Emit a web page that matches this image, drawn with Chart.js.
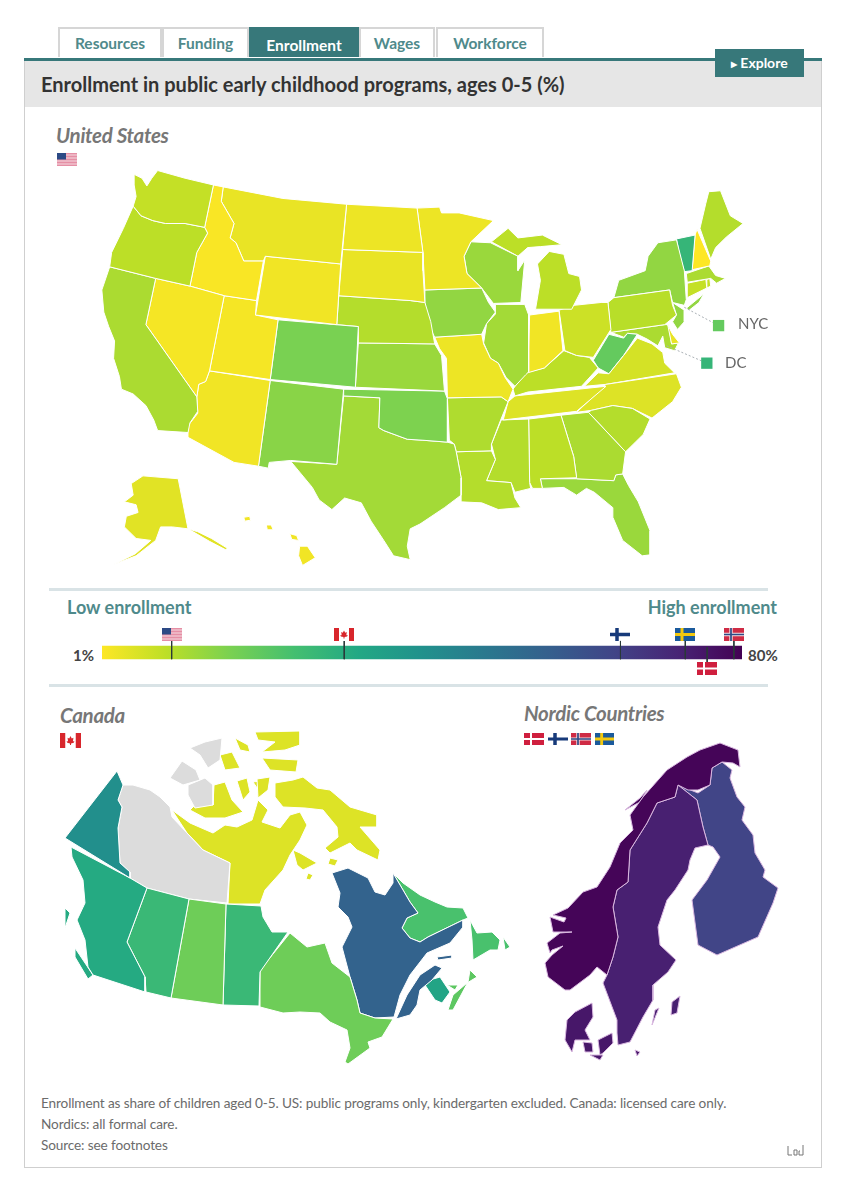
<!DOCTYPE html>
<html>
<head>
<meta charset="utf-8">
<title>Enrollment in public early childhood programs</title>
<script src="https://cdn.jsdelivr.net/npm/chart.js@4/dist/chart.umd.min.js"></script>
<style>
  html, body { margin: 0; padding: 0; background: #fff; }
  body { width: 865px; height: 1200px; position: relative; overflow: hidden; font-family: Lato, sans-serif; }
  .abs { position: absolute; }
  canvas { position: absolute; }
  .tab { position: absolute; top: 27px; height: 30px; line-height: 29px; text-align: center; box-sizing: border-box;
    border: 2px solid #d6d6d6; border-bottom: none; font-size: 15.5px; font-weight: 700; color: #4f8a8b; background: #fff; }
  .tab.active { background: #37787a; border-color: #37787a; color: #fff; line-height: 33px; }
  #card { position: absolute; left: 24px; top: 58px; width: 798px; height: 1110px; box-sizing: border-box;
    border: 1px solid #cfcfcf; border-top: none; }
  #topline { position: absolute; left: 24px; top: 58px; width: 798px; height: 3px; background: #37787a; }
  #header { position: absolute; left: 25px; top: 61px; width: 796px; height: 46px; background: #e6e6e6; }
  #title { position: absolute; left: 41px; top: 72px; font-size: 20px; font-weight: 700; color: #333; white-space: nowrap; }
  #explore { position: absolute; left: 715px; top: 49px; width: 89px; height: 28px; line-height: 28px; background: #37787a;
    color: #fff; font-size: 14px; font-weight: 700; text-align: center; }
  #explore span { font-size: 8px; vertical-align: 1px; margin-right: 3px; }
  .region { position: absolute; font-size: 20.5px; font-weight: 700; font-style: italic; color: #777; white-space: nowrap; letter-spacing: -0.3px; }
  .sep { position: absolute; left: 49px; width: 719px; height: 3px; background: #d9e3e6; }
  .scale-end { position: absolute; font-size: 18px; font-weight: 700; color: #4f8a8b; white-space: nowrap; }
  .scale-val { position: absolute; font-size: 15px; font-weight: 700; color: #444; white-space: nowrap; }
  .tag { position: absolute; font-size: 15px; color: #666; white-space: nowrap; }
  .note { position: absolute; left: 41px; font-size: 13.6px; color: #6b6b6b; white-space: nowrap; letter-spacing: -0.12px; }
  .flag { position: absolute; display: block; }
</style>
</head>
<body>

<div class="tab" style="left:58px;width:104px">Resources</div>
<div class="tab" style="left:162px;width:87px">Funding</div>
<div class="tab active" style="left:249px;width:110px">Enrollment</div>
<div class="tab" style="left:359px;width:76px">Wages</div>
<div class="tab" style="left:436px;width:108px">Workforce</div>
<div id="card"></div>
<div id="header"></div>
<div id="topline"></div>
<div id="title">Enrollment in public early childhood programs, ages 0-5 (%)</div>
<div id="explore"><span>&#9654;</span>Explore</div>

<div class="region" style="left:56px;top:123px">United States</div>
<div class="region" style="left:60px;top:703px">Canada</div>
<div class="region" style="left:524px;top:701px">Nordic Countries</div>

<canvas id="usMap" style="left:40px;top:150px" width="760" height="435"></canvas>
<canvas id="caMap" style="left:50px;top:725px" width="470" height="350"></canvas>
<canvas id="noMap" style="left:520px;top:735px" width="270" height="335"></canvas>

<div class="tag" style="left:738px;top:314px">NYC</div>
<div class="tag" style="left:725px;top:353px">DC</div>

<div class="sep" style="top:588px"></div>
<div class="sep" style="top:684px"></div>
<div class="scale-end" style="left:67px;top:596px">Low enrollment</div>
<div class="scale-end" style="right:88px;top:596px">High enrollment</div>
<div class="scale-val" style="left:73px;top:646px">1%</div>
<div class="scale-val" style="left:748px;top:646px">80%</div>
<canvas id="scaleBar" style="left:102px;top:640px" width="640" height="24"></canvas>

<div class="note" style="top:1095px">Enrollment as share of children aged 0-5. US: public programs only, kindergarten excluded. Canada: licensed care only.</div>
<div class="note" style="top:1116px">Nordics: all formal care.</div>
<div class="note" style="top:1137px">Source: see footnotes</div>
<svg class="abs" style="left:787px;top:1144px" width="18" height="12" viewBox="0 0 18 12">
  <path d="M1 2v9h4M7 6h3v5H7zM13 7h-1v4h4V1" fill="none" stroke="#777" stroke-width="1"/>
</svg>

<script>
// enrollment scale shown on the bar
const scaleMin = 1;
const scaleMax = 80;

// national averages, positions of the flags on the bar
const countryCodes = ['us', 'ca', 'fi', 'se', 'dk', 'no'];
const countryValues = [9.6, 30.9, 65, 73, 75.7, 79];

// US states, values
const usStates = ['WA','OR','CA','NV','ID','MT','WY','UT','AZ','CO','NM','ND','SD','NE','KS','OK','TX','MN','IA','MO','AR','LA',
  'WI','IL','MI','IN','OH','KY','TN','MS','AL','GA','FL','SC','NC','VA','WV','PA','NY','VT','NH','ME','MA','CT','RI','NJ','DE','MD','AK','HI'];
const usValues = [8,9,11,2,1.5,3.5,2.5,2,2.5,17,15,3,3.5,10,13,16.5,12,3,14,3,10.5,10,
  13,12,9,2.5,7,9,5,10,9,11,13,10,5,6,20,9.5,14,28,1,10,11,8,8,14,3.5,11,4.5,2.5];

// state outlines in map units, same order as usStates
const usOutlines = [
  [[128,167,136,171,141,179,146,171,152,163,180,171,209,178,200,222,180,218,160,218,147,215,135,210,127,200,130,190,128,178]],
  [[127,200,135,210,147,215,160,218,180,218,200,222,203,228,192,248,185,283,150,275,103,263,105,248,117,223]],
  [[103,263,150,275,140,323,192,398,193,413,185,425,183,435,152,433,148,422,140,407,127,395,115,390,113,377,107,358,108,340,102,325,97,310,95,287]],
  [[150,275,185,283,220,293,205,371,201,382,194,385,192,398,140,323]],
  [[209,178,219,180,217,195,230,218,226,233,232,238,240,257,260,257,253,298,220,293,185,283,192,248,203,228,200,222]],
  [[219,180,280,192,345,198,339,260,262,252,260,257,240,257,232,238,226,233,230,218,217,195]],
  [[262,252,339,260,335,323,252,313]],
  [[220,293,253,298,252,313,275,318,267,380,205,371]],
  [[205,371,267,381,255,470,230,466,183,440,183,428,193,415,192,398,194,385,201,382]],
  [[275,318,357,325,354,388,267,380]],
  [[267,381,342,390,335,468,288,464,266,466,265,472,255,470]],
  [[345,198,417,202,423,248,341,245]],
  [[341,245,423,248,423,267,425,300,410,298,337,293]],
  [[337,293,410,298,425,300,431,320,435,343,357,342,357,325,335,323]],
  [[357,342,435,343,442,355,445,392,354,388]],
  [[342,390,445,392,448,400,448,445,423,443,407,442,383,433,378,430,379,399,342,397]],
  [[342,397,379,399,378,430,383,433,407,442,423,443,448,445,455,447,457,455,462,482,462,500,445,513,420,530,410,535,407,553,410,567,393,563,383,547,370,527,360,508,343,503,330,515,317,505,310,492,288,465,335,468]],
  [[417,202,440,201,442,207,460,207,495,215,472,237,465,252,468,270,483,285,425,287,423,248]],
  [[425,287,483,285,490,300,497,310,488,322,483,333,435,336,427,320,425,300]],
  [[435,336,483,333,485,343,492,358,500,363,507,378,515,390,510,403,503,398,448,399,447,358,440,348]],
  [[448,399,503,398,510,403,502,423,493,447,493,454,457,455,455,447,450,443]],
  [[457,455,493,454,497,463,488,485,513,487,517,503,523,513,500,515,483,508,462,507,462,482]],
  [[472,237,492,238,520,252,520,267,527,256,523,300,495,301,483,285,468,270,465,252]],
  [[497,302,527,302,531,313,531,372,528,375,517,387,508,378,500,363,492,358,485,342,488,322,497,312]],
  [[493,237,510,223,520,233,545,230,565,240,543,242,530,243,520,252],[538,307,543,277,540,260,552,247,567,250,572,270,583,273,585,287,575,307]],
  [[532,313,562,309,566,350,547,368,530,373]],
  [[562,308,577,303,605,300,612,300,615,328,597,357,580,355,568,350]],
  [[515,390,527,373,547,368,567,350,580,355,593,357,602,368,585,387,530,393,517,397]],
  [[517,397,610,387,580,413,505,422,510,403]],
  [[503,422,531,421,532,487,533,493,517,497,513,487,488,485,497,463,493,447]],
  [[531,421,564,417,577,460,580,482,543,483,545,493,535,493,532,487]],
  [[564,417,592,414,630,455,627,478,620,479,618,485,580,483,577,460]],
  [[543,483,580,483,618,485,620,479,627,478,633,490,643,507,655,537,655,562,647,563,627,547,617,523,617,513,598,497,590,493,580,500,567,492,545,493]],
  [[592,414,595,412,617,407,637,410,655,421,648,437,630,455]],
  [[580,414,610,385,682,374,687,388,678,403,657,420,637,410,617,407,595,412]],
  [[588,387,602,373,613,374,628,355,642,337,657,343,668,352,670,363,680,373,610,385]],
  [[597,360,613,333,628,337,632,332,642,333,628,355,613,374,602,368]],
  [[618,295,675,287,678,303,682,313,670,323,615,331,612,300]],
  [[618,295,623,277,650,267,653,252,663,238,682,235,690,267,692,297,690,303,678,300,675,287],[692,306,710,291,705,300,695,308]],
  [[682,234,701,230,698,267,690,268,685,250]],
  [[701,230,703,224,717,257,716,262,698,266]],
  [[706,223,712,197,715,185,727,184,737,210,750,218,733,232,722,243,717,255]],
  [[692,270,715,262,722,272,732,275,723,280,717,275,693,279]],
  [[693,280,712,276,713,285,693,295]],
  [[713,276,716,275,717,283,713,285]],
  [[678,300,690,308,690,320,683,328,678,320,682,313]],
  [[673,323,678,333,685,342,677,343]],
  [[615,331,670,323,674,323,677,343,684,342,680,350,670,347,668,335,663,345,652,338,642,333,632,332,628,336]],
  [[125,488,137,480,173,483,183,535,193,538,207,545,223,555,222,557,205,548,183,535,167,533,155,533,150,547,130,563,107,572,129,561,145,547,130,545,118,533,120,522,132,518,130,510,118,507,127,500]],
  [[297,553,305,553,313,565,300,573,296,563],[287,540,294,542,296,547,289,546],[263,531,268,531,270,536,264,536],[240,523,246,522,247,526,241,527]]
];

// city call-outs beside the US map
const usCities = ['NYC', 'DC'];
const usCityValues = [20, 28];
const usCityMarks = [[725, 324], [713, 363]];
const usCityAnchors = [[690, 305], [672, 345]];

// Canadian provinces, null is no data
const caProvinces = ['YT','BC','AB','SK','MB','NT','NU','ON','QC','NL','NB','NS','PE'];
const caValues = [41, 32, 27, 18.5, 27, null, 5, 18.5, 55, 24, 34, 21, 21];
const caOutlines = [
  [[117,771,123,785,118,800,122,807,118,828,120,863,130,872,130,878,65,838]],
  [[71,847,130,878,147,888,127,942,145,977,145,992,93,975,88,967,85,940,77,920,85,903,83,880,72,857],[75,948,93,975,88,979,75,957],[65,908,70,913,65,928]],
  [[147,888,189,899,171,998,146,992,145,977,127,942]],
  [[189,899,226,904,223,1005,171,998]],
  [[226,904,261,906,263,917,272,932,288,932,260,972,259,1006,223,1005]],
  [[123,785,133,785,150,790,160,797,170,807,172,817,187,833,203,850,230,863,227,903,189,899,147,888,130,878,130,872,120,863,118,828,122,807,118,800],
   [170,778,182,761,196,770,200,780,183,785],[188,785,205,778,213,785,213,805,195,808,188,795],[190,748,205,742,222,738,220,760,208,768,200,755]],
  [[172,810,190,823,213,833,225,825,237,827,252,820,258,800,268,810,262,822,280,828,290,815,300,812,307,825,300,840,290,855,283,870,265,890,260,904,228,904,230,863,203,850,187,833],
   [190,810,200,800,213,805,214,785,225,782,232,800,243,812,225,818,205,818],[237,781,247,778,250,792,243,800],[257,779,270,777,268,790,258,798],
   [220,755,232,752,240,768,225,770],[235,738,248,745,250,752,240,750],[255,732,300,731,300,745,285,750,262,752,275,742,258,740],[262,758,298,760,296,772,270,770],
   [275,783,293,780,303,777,317,788,330,790,350,807,377,815,377,827,360,827,380,850,378,860,357,850,350,843,330,853,325,848,338,837,337,827,323,810,305,808,283,807,275,797],
   [293,850,300,853,317,863,303,870,297,865],[308,873,313,875,310,880,306,879],[253,782,268,780,262,795],[330,858,338,860,335,866,328,864]],
  [[290,933,307,947,325,943,332,963,350,977,357,1000,360,1013,375,1018,393,1019,382,1037,368,1042,370,1048,348,1064,345,1062,350,1048,347,1030,330,1022,320,1013,300,1012,283,1013,260,1007,260,970]],
  [[332,873,348,868,368,878,375,892,385,895,393,883,393,873,403,890,410,902,418,913,407,918,402,928,410,938,420,942,428,937,463,920,463,927,450,943,427,953,410,975,400,995,394,1017,375,1018,360,1013,357,1000,350,977,342,947,352,927,348,917,338,907,340,893],
   [396,1019,407,995,420,975,435,965,442,968,432,980,420,990,417,1005,410,1015],[437,957,452,955,452,958,438,960]],
  [[393,873,403,883,420,895,435,902,447,907,463,908,468,918,463,920,428,937,420,942,410,938,402,928,407,918,418,913,410,902,403,890],
   [470,920,477,933,492,932,500,940,498,950,490,950,473,960,472,940],[503,937,510,947,505,950]],
  [[423,982,440,977,450,992,442,1003,435,1000]],
  [[448,1010,453,995,467,983,477,977,470,970,468,982,453,1010]],
  [[447,985,458,985,455,990]]
];

// Nordic countries
const nordicCountries = ['Norway', 'Sweden', 'Finland', 'Denmark'];
const nordicValues = [79, 73, 64, 75];
const nordicOutlines = [
  [[565,990,548,977,545,963,552,955,563,946,552,950,550,953,547,943,560,933,572,932,553,932,550,917,564,922,566,918,553,915,568,908,583,892,597,887,610,867,620,843,633,830,630,815,643,797,667,770,687,757,700,750,720,743,738,750,740,767,733,763,722,762,712,768,710,785,698,790,688,790,678,785,675,797,657,803,647,823,630,850,628,882,617,890,613,907,618,937,613,957,607,975,597,967,590,975,570,990],
   [625,810,640,798,647,790,640,802]],
  [[678,785,697,800,703,827,708,845,695,848,690,860,688,870,675,890,667,900,658,927,660,945,676,960,668,972,653,985,653,1000,643,1017,630,1042,618,1045,617,1033,617,1020,603,983,607,975,613,957,618,937,613,907,617,890,628,882,630,850,647,823,657,803,675,797],
   [672,1002,680,996,677,1013,671,1015],[655,1010,659,1008,652,1025]],
  [[678,785,698,793,710,785,712,768,722,762,732,770,730,778,737,797,745,807,742,820,753,835,755,853,765,870,763,877,778,888,773,903,758,937,717,955,698,945,692,900,707,880,720,857,713,847,708,845,703,827,697,800]],
  [[592,1003,593,1017,585,1030,590,1040,575,1040,572,1052,565,1040,567,1020,575,1012],[598,1040,612,1033,613,1043,603,1053,600,1055],[583,1042,592,1043,593,1052,585,1052],[590,1055,603,1055,600,1060],[635,1050,640,1052,637,1056]]
];

const viridis = ['#fde725','#bddf26','#7ad151','#44bf70','#22a884','#21918c','#2a788e','#355f8d','#414487','#482475','#440154'];

function hexToRgb(hex) {
  return [1, 3, 5].map(i => parseInt(hex.slice(i, i + 2), 16));
}

function valueColor(value) {
  if (value === null) return '#dcdcdc';
  const t = Math.min(Math.max((value - scaleMin) / (scaleMax - scaleMin), 0), 1) * (viridis.length - 1);
  const i = Math.min(Math.floor(t), viridis.length - 2);
  const a = hexToRgb(viridis[i]);
  const b = hexToRgb(viridis[i + 1]);
  const c = a.map((v, k) => Math.round(v + (b[k] - v) * (t - i)));
  return `rgb(${c[0]},${c[1]},${c[2]})`;
}

function ringToPoints(ring) {
  const points = [];
  for (let i = 0; i < ring.length; i += 2) points.push({ x: ring[i], y: ring[i + 1] });
  points.push({ x: ring[0], y: ring[1] });
  return points;
}

function regionDatasets(names, values, outlines, borderColor) {
  const datasets = [];
  names.forEach((name, i) => {
    outlines[i].forEach(ring => {
      datasets.push({
        label: name,
        data: ringToPoints(ring),
        backgroundColor: valueColor(values[i]),
        borderColor: borderColor,
        borderWidth: 1,
        fill: 'shape',
        pointRadius: 0,
        tension: 0
      });
    });
  });
  return datasets;
}

function createMap(canvasId, datasets, left, top) {
  const canvas = document.getElementById(canvasId);
  return new Chart(canvas.getContext('2d'), {
    type: 'line',
    data: { datasets: datasets },
    options: {
      responsive: false,
      animation: false,
      devicePixelRatio: 1,
      events: [],
      layout: { padding: 0 },
      plugins: { legend: { display: false }, tooltip: { enabled: false } },
      scales: {
        x: { type: 'linear', display: false, min: left, max: left + canvas.width },
        y: { type: 'linear', display: false, min: top, max: top + canvas.height, reverse: true }
      }
    }
  });
}

// call-outs go first so they are drawn over the states
const cityDatasets = [];
usCities.forEach((city, i) => {
  cityDatasets.push({
    label: city,
    data: [{ x: usCityMarks[i][0], y: usCityMarks[i][1] }],
    pointStyle: 'rect',
    pointRadius: 8,
    pointBackgroundColor: valueColor(usCityValues[i]),
    pointBorderWidth: 0,
    showLine: false
  });
  cityDatasets.push({
    label: city + ' leader',
    data: [{ x: usCityAnchors[i][0], y: usCityAnchors[i][1] }, { x: usCityMarks[i][0], y: usCityMarks[i][1] }],
    borderColor: '#aab0b5',
    borderWidth: 1,
    borderDash: [2, 2],
    pointRadius: 0
  });
});

createMap('usMap', cityDatasets.concat(regionDatasets(usStates, usValues, usOutlines, '#fff')), 40, 150);
createMap('caMap', regionDatasets(caProvinces, caValues, caOutlines, '#fff'), 50, 725);
createMap('noMap', regionDatasets(nordicCountries, nordicValues, nordicOutlines, '#d9b8e0'), 520, 735);

// colour scale with a tick per country
const scaleCanvas = document.getElementById('scaleBar');
const scaleCtx = scaleCanvas.getContext('2d');
const barGradient = scaleCtx.createLinearGradient(0, 0, scaleCanvas.width, 0);
viridis.forEach((c, i) => barGradient.addColorStop(i / (viridis.length - 1), c));

const barDataset = {
  label: 'scale',
  data: ringToPoints([scaleMin, 0.24, scaleMax, 0.24, scaleMax, 0.8, scaleMin, 0.8]),
  backgroundColor: barGradient,
  borderWidth: 0,
  fill: 'shape',
  pointRadius: 0
};
const tickDatasets = countryCodes.map((code, i) => ({
  label: code,
  // Denmark hangs below the bar, the others stand on top of it
  data: code === 'dk'
    ? [{ x: countryValues[i], y: 0.3 }, { x: countryValues[i], y: 0.96 }]
    : [{ x: countryValues[i], y: 0.04 }, { x: countryValues[i], y: 0.8 }],
  borderColor: '#2a3a3a',
  borderWidth: 1,
  pointRadius: 0
}));

const scaleChart = new Chart(scaleCtx, {
  type: 'line',
  data: { datasets: tickDatasets.concat([barDataset]) },
  options: {
    responsive: false,
    animation: false,
    devicePixelRatio: 1,
    events: [],
    layout: { padding: 0 },
    plugins: { legend: { display: false }, tooltip: { enabled: false } },
    scales: {
      x: { type: 'linear', display: false, min: scaleMin, max: scaleMax },
      y: { type: 'linear', display: false, min: 0, max: 1, reverse: true }
    }
  }
});

// small flags as inline svg
const flagSvgs = {
  us: '<rect width="20" height="13" fill="#e58fa5"/><path d="M0 2h20M0 5h20M0 8h20M0 11h20" stroke="#f6dbe2" stroke-width="1.2"/><rect width="9" height="6.5" fill="#2c4a85"/>',
  ca: '<rect width="20" height="13" fill="#fff"/><rect width="5" height="13" fill="#d8262c"/><rect x="15" width="5" height="13" fill="#d8262c"/><path d="M10 2.5l1.2 2.2 1.6-.6-.5 3.2 1.4-.3-.6 1.5-2.6.5v1.5h-1V9l-2.6-.5-.6-1.5 1.4.3-.5-3.2 1.6.6z" fill="#d8262c"/>',
  dk: '<rect width="20" height="13" fill="#cf1f3e"/><path d="M7 0v13M0 6.5h20" stroke="#fff" stroke-width="2"/>',
  fi: '<path d="M7 0v13M0 6.5h20" stroke="#173a7a" stroke-width="3.5"/>',
  no: '<rect width="20" height="13" fill="#cf2b45"/><path d="M7 0v13M0 6.5h20" stroke="#f3dfe3" stroke-width="3.4"/><path d="M7 0v13M0 6.5h20" stroke="#2e4a86" stroke-width="1.7"/>',
  se: '<rect width="20" height="13" fill="#1a5a9c"/><path d="M7 0v13M0 6.5h20" stroke="#f2c80f" stroke-width="3"/>'
};

function addFlag(code, left, top, width, height) {
  const el = document.createElementNS('http://www.w3.org/2000/svg', 'svg');
  el.setAttribute('class', 'flag');
  el.setAttribute('viewBox', '0 0 20 13');
  el.setAttribute('preserveAspectRatio', 'none');
  el.setAttribute('width', width);
  el.setAttribute('height', height);
  el.style.left = left + 'px';
  el.style.top = top + 'px';
  el.innerHTML = flagSvgs[code];
  document.body.appendChild(el);
}

addFlag('us', 57, 153, 20, 13);
addFlag('ca', 60, 733, 21, 15);
addFlag('dk', 524, 733, 20, 12);
addFlag('fi', 548, 733, 20, 12);
addFlag('no', 571, 733, 20, 12);
addFlag('se', 595, 733, 19, 12);

// flags on the colour scale follow the chart's own x axis
countryCodes.forEach((code, i) => {
  const x = 102 + scaleChart.scales.x.getPixelForValue(countryValues[i]);
  addFlag(code, x - 10, code === 'dk' ? 662 : 628, 20, 13);
});
</script>
</body>
</html>
